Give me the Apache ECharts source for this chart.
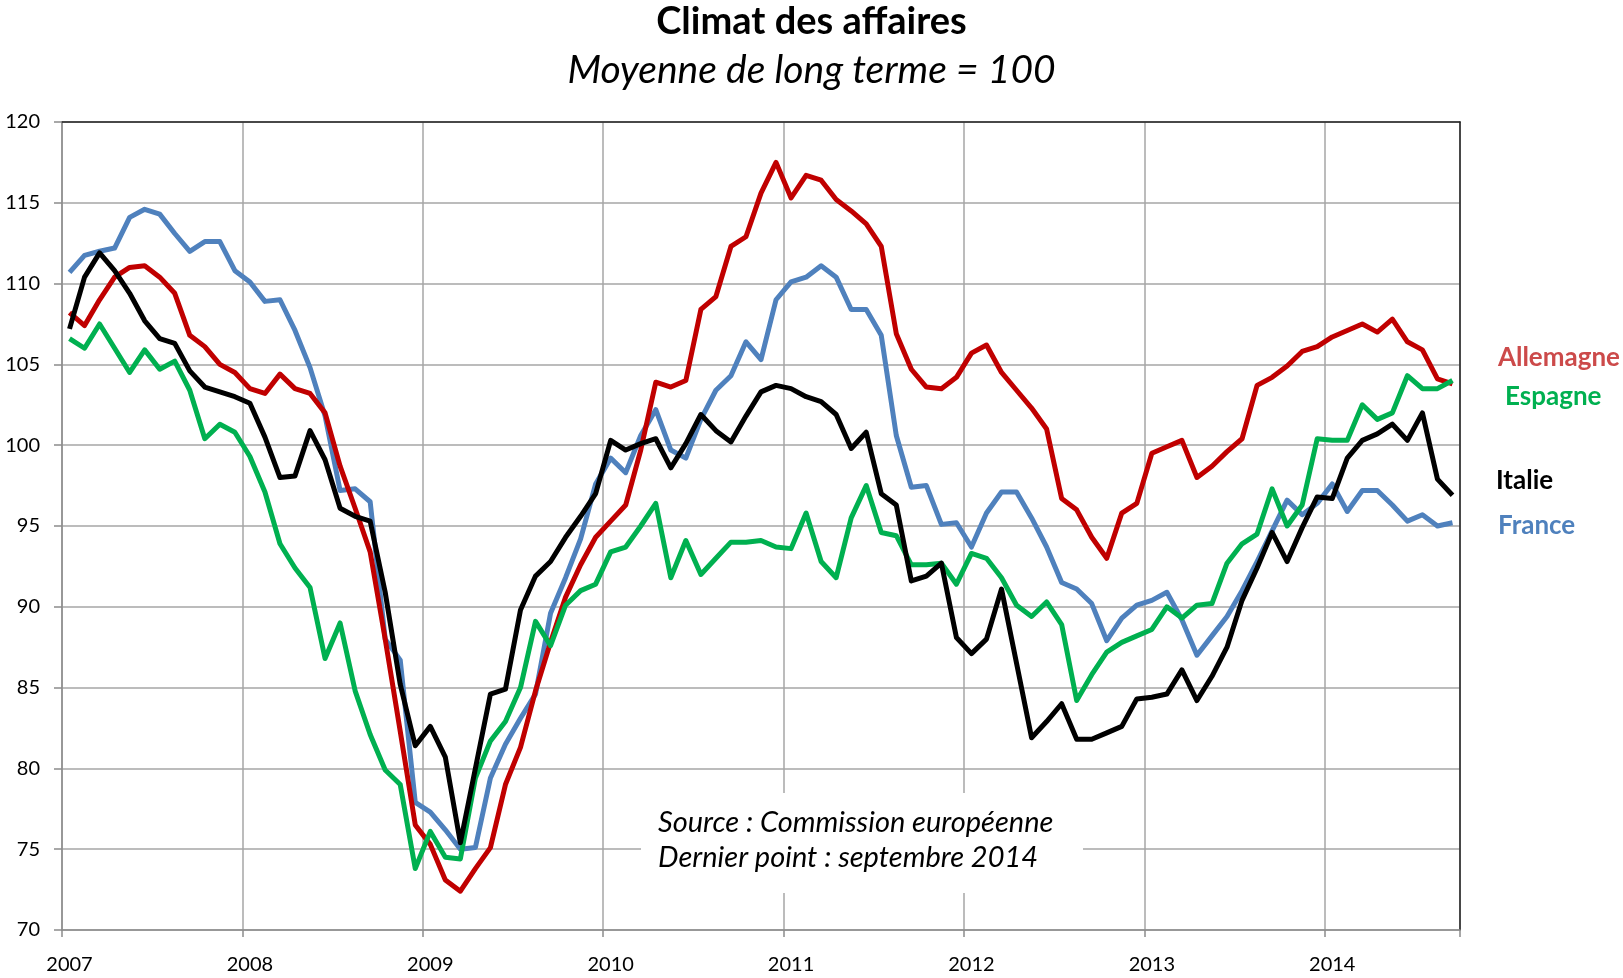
<!DOCTYPE html>
<html><head><meta charset="utf-8">
<script src="https://cdn.jsdelivr.net/npm/echarts@6/dist/echarts.min.js"></script>
<style>html,body{margin:0;padding:0;background:#fff}#c{width:1623px;height:978px}</style>
</head><body><div id="c"></div>
<script>
const startYear = 2007;
const monthCount = 93; // Jan 2007 .. Sep 2014
const months = [];
for (let i = 0; i < monthCount; i++) {
  const y = startYear + Math.floor(i / 12), m = (i % 12) + 1;
  months.push(y + '-' + (m < 10 ? '0' + m : m));
}
const yTicks = [70, 120, 5];

const allemagne = [108.2,107.4,109.0,110.4,111.0,111.1,110.4,109.4,106.8,106.1,105.0,104.5,
  103.5,103.2,104.4,103.5,103.2,102.0,98.7,96.1,93.4,88.0,82.3,76.5,
  75.3,73.1,72.4,73.8,75.1,79.0,81.3,84.8,87.8,90.6,92.6,94.3,
  95.3,96.3,99.7,103.9,103.6,104.0,108.4,109.2,112.3,112.9,115.6,117.5,
  115.3,116.7,116.4,115.2,114.5,113.7,112.3,106.9,104.7,103.6,103.5,104.2,
  105.7,106.2,104.5,103.4,102.3,101.0,96.7,96.0,94.3,93.0,95.8,96.4,
  99.5,99.9,100.3,98.0,98.7,99.6,100.4,103.7,104.2,104.9,105.8,106.1,
  106.7,107.1,107.5,107.0,107.8,106.4,105.9,104.1,103.8];
const espagne = [106.6,106.0,107.5,106.0,104.5,105.9,104.7,105.2,103.4,100.4,101.3,100.8,
  99.3,97.1,93.9,92.4,91.2,86.8,89.0,84.8,82.1,79.9,79.0,73.8,
  76.1,74.5,74.4,79.4,81.7,82.9,85.0,89.1,87.6,90.1,91.0,91.4,
  93.4,93.7,95.0,96.4,91.8,94.1,92.0,93.0,94.0,94.0,94.1,93.7,
  93.6,95.8,92.8,91.8,95.5,97.5,94.6,94.4,92.6,92.6,92.7,91.4,
  93.3,93.0,91.8,90.1,89.4,90.3,88.9,84.2,85.8,87.2,87.8,88.2,
  88.6,90.0,89.3,90.1,90.2,92.7,93.9,94.5,97.3,95.0,96.3,100.4,
  100.3,100.3,102.5,101.6,102.0,104.3,103.5,103.5,104.0];
const italie = [107.2,110.4,111.9,110.8,109.4,107.7,106.6,106.3,104.6,103.6,103.3,103.0,
  102.6,100.5,98.0,98.1,100.9,99.1,96.1,95.6,95.3,90.9,85.2,81.4,
  82.6,80.7,75.4,80.0,84.6,84.9,89.8,91.9,92.8,94.3,95.6,97.0,
  100.3,99.7,100.1,100.4,98.6,100.1,101.9,100.9,100.2,101.8,103.3,103.7,
  103.5,103.0,102.7,101.9,99.8,100.8,97.0,96.3,91.6,91.9,92.7,88.1,
  87.1,88.0,91.1,86.5,81.9,82.9,84.0,81.8,81.8,82.2,82.6,84.3,
  84.4,84.6,86.1,84.2,85.7,87.5,90.4,92.4,94.6,92.8,94.9,96.8,
  96.7,99.2,100.3,100.7,101.3,100.3,102.0,97.9,96.9];
const france = [110.7,111.75,112.0,112.2,114.1,114.6,114.3,113.1,112.0,112.6,112.6,110.8,
  110.1,108.9,109.0,107.1,104.8,101.8,97.2,97.3,96.5,88.0,86.7,77.9,
  77.3,76.2,75.0,75.1,79.4,81.5,83.1,84.6,89.6,91.8,94.2,97.6,
  99.2,98.3,100.6,102.2,99.7,99.2,101.6,103.4,104.3,106.4,105.3,109.0,
  110.1,110.4,111.1,110.4,108.4,108.4,106.8,100.6,97.4,97.5,95.1,95.2,
  93.7,95.8,97.1,97.1,95.5,93.7,91.5,91.1,90.2,87.9,89.3,90.1,
  90.4,90.9,89.2,87.0,88.2,89.4,91.0,92.8,94.7,96.6,95.7,96.4,
  97.6,95.9,97.2,97.2,96.3,95.3,95.7,95.0,95.2];

const seriesNames = ['France', 'Allemagne', 'Espagne', 'Italie'];
const seriesData = [france, allemagne, espagne, italie];
const lineColors = ['#4f81bd', '#c00000', '#00b050', '#000000'];
const labelColors = ['#4f81bd', '#cc4a4a', '#00b050', '#000000'];

const chart = echarts.init(document.getElementById('c'));
const FONT = 'Lato, "Liberation Sans", sans-serif';
const gridBox = {left: 62, right: 163, top: 122, bottom: 48};

function sideLabel(txt, x, y, color, align, size) {
  return {type: 'text', x: x, y: y, z: 51,
    style: {text: txt, font: 'bold ' + size + 'px ' + FONT, fill: color, textAlign: align, textVerticalAlign: 'middle'}};
}

const option = {
  animation: false,
  backgroundColor: '#ffffff',
  textStyle: {fontFamily: FONT},
  title: [
    {text: 'Climat des affaires', left: 'center', top: -2,
     textStyle: {fontSize: 38, fontWeight: 'bold', color: '#000', fontFamily: FONT}},
    {text: 'Moyenne de long terme = 100', left: 'center', top: 46,
     textStyle: {fontSize: 39, fontWeight: 'normal', fontStyle: 'italic', color: '#000', fontFamily: FONT}}
  ],
  grid: Object.assign({containLabel: false}, gridBox),
  xAxis: [
    {type: 'category', data: months, boundaryGap: true,
     axisLine: {show: true, lineStyle: {color: '#8c8c8c', width: 1.5}},
     axisTick: {show: true, interval: 11, length: 7, lineStyle: {color: '#8c8c8c', width: 1.5}},
     axisLabel: {interval: 11, formatter: v => v.slice(0, 4), fontSize: 20, color: '#000', margin: 25, fontFamily: FONT},
     splitLine: {show: true, interval: 11, lineStyle: {color: '#a6a6a6', width: 1.5}}},
    {type: 'category', data: months, boundaryGap: true, position: 'top',
     axisLine: {show: true, lineStyle: {color: '#222', width: 1.5}},
     axisTick: {show: false}, axisLabel: {show: false}, splitLine: {show: false}}
  ],
  yAxis: [
    {type: 'value', min: yTicks[0], max: yTicks[1], interval: yTicks[2],
     axisLine: {show: true, lineStyle: {color: '#8c8c8c', width: 1.5}},
     axisTick: {show: true, length: 8, lineStyle: {color: '#8c8c8c', width: 1.5}},
     axisLabel: {fontSize: 20, color: '#000', margin: 22, fontFamily: FONT},
     splitLine: {show: true, lineStyle: {color: '#a6a6a6', width: 1.5}}},
    {type: 'value', min: yTicks[0], max: yTicks[1], interval: yTicks[2], position: 'right',
     axisLine: {show: true, lineStyle: {color: '#222', width: 1.5}},
     axisTick: {show: false}, axisLabel: {show: false}, splitLine: {show: false}}
  ],
  series: seriesNames.map((n, k) => ({
    name: n, type: 'line', data: seriesData[k], showSymbol: false, symbol: 'none',
    lineStyle: {color: lineColors[k], width: 5, join: 'round'},
    itemStyle: {color: lineColors[k]}, z: 3 + k
  })),
  graphic: [
    {type: 'rect', left: 641, top: 793, shape: {width: 442, height: 100},
     style: {fill: '#ffffff'}, z: 50},
    {type: 'text', left: 658, top: 808, z: 51,
     style: {text: 'Source : Commission européenne', font: 'italic 29px ' + FONT, fill: '#000'}},
    {type: 'text', left: 658, top: 843, z: 51,
     style: {text: 'Dernier point : septembre 2014', font: 'italic 29px ' + FONT, fill: '#000'}},
    sideLabel('Allemagne', 1620, 358, labelColors[1], 'right', 26),
    sideLabel('Espagne', 1505, 397, labelColors[2], 'left', 26),
    sideLabel('Italie', 1496, 481, labelColors[3], 'left', 26),
    sideLabel('France', 1498, 526, labelColors[0], 'left', 26)
  ]
};
chart.setOption(option);
</script></body></html>
